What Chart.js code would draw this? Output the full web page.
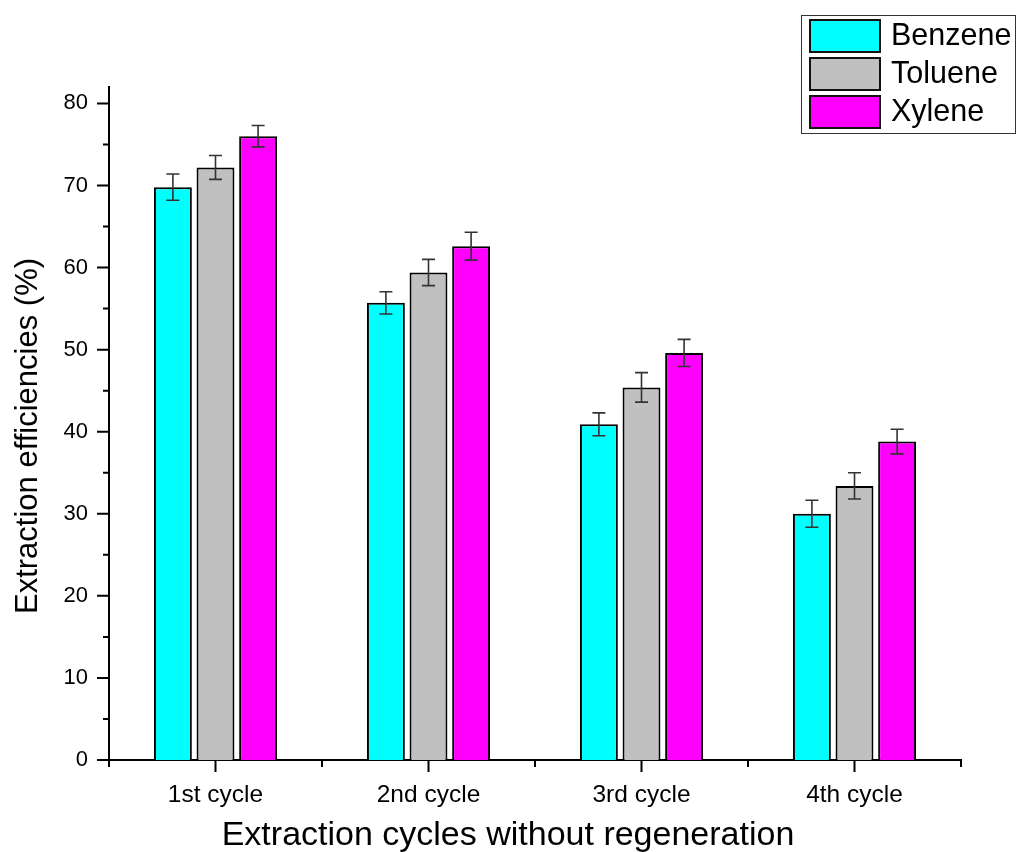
<!DOCTYPE html>
<html>
<head>
<meta charset="utf-8">
<script src="https://cdn.jsdelivr.net/npm/chart.js@4.4.1/dist/chart.umd.min.js"></script>
<style>
  html, body { margin: 0; padding: 0; background: #fff; }
  #wrap { width: 1017px; height: 852px; position: relative; }
</style>
</head>
<body>
<div id="wrap"><canvas id="c" width="1017" height="852"></canvas></div>
<script>
const categories = ['1st cycle', '2nd cycle', '3rd cycle', '4th cycle'];
const seriesNames = ['Benzene', 'Toluene', 'Xylene'];
const benzene = [69.8, 55.7, 40.9, 30.0];
const toluene = [72.2, 59.4, 45.4, 33.4];
const xylene = [76.0, 62.6, 49.6, 38.8];
const benzeneErr = [1.6, 1.35, 1.4, 1.65];
const tolueneErr = [1.45, 1.6, 1.8, 1.6];
const xyleneErr = [1.3, 1.7, 1.65, 1.5];
const yTickValues = [0, 10, 20, 30, 40, 50, 60, 70, 80];
const yMinorValues = [5, 15, 25, 35, 45, 55, 65, 75];
const xTitle = 'Extraction cycles without regeneration';
const yTitle = 'Extraction efficiencies (%)';

const colors = ['#00FFFF', '#C0C0C0', '#FF00FF'];
const errs = [benzeneErr, tolueneErr, xyleneErr];
const FONT = '"Liberation Sans", Arial, sans-serif';

const customPlugin = {
  id: 'custom',
  afterDatasetsDraw(chart) {
    const ctx = chart.ctx;
    const ys = chart.scales.y;
    ctx.save();
    ctx.strokeStyle = '#333';
    ctx.lineWidth = 1.6;
    chart.data.datasets.forEach((ds, di) => {
      const meta = chart.getDatasetMeta(di);
      meta.data.forEach((bar, i) => {
        const v = ds.data[i], e = errs[di][i];
        const yt = ys.getPixelForValue(v + e), yb = ys.getPixelForValue(v - e);
        const x = bar.x, cw = 6.5;
        ctx.beginPath();
        ctx.moveTo(x, yt); ctx.lineTo(x, yb);
        ctx.moveTo(x - cw, yt); ctx.lineTo(x + cw, yt);
        ctx.moveTo(x - cw, yb); ctx.lineTo(x + cw, yb);
        ctx.stroke();
      });
    });
    ctx.restore();
  },
  afterDraw(chart) {
    const ctx = chart.ctx;
    const ys = chart.scales.y, xs = chart.scales.x;
    const ca = chart.chartArea;
    ctx.save();
    // tick marks
    ctx.strokeStyle = '#000';
    ctx.lineWidth = 2;
    ctx.beginPath();
    yTickValues.forEach(v => { const y = ys.getPixelForValue(v); ctx.moveTo(ca.left, y); ctx.lineTo(ca.left - 12, y); });
    yMinorValues.forEach(v => { const y = ys.getPixelForValue(v); ctx.moveTo(ca.left, y); ctx.lineTo(ca.left - 6, y); });
    categories.forEach((c, i) => {
      const x = xs.getPixelForValue(i);
      ctx.moveTo(x, ca.bottom); ctx.lineTo(x, ca.bottom + 12);
    });
    const step = (xs.getPixelForValue(1) - xs.getPixelForValue(0));
    for (let i = 0; i <= categories.length; i++) {
      const x = xs.getPixelForValue(0) - step / 2 + i * step;
      ctx.moveTo(x, ca.bottom); ctx.lineTo(x, ca.bottom + 7);
    }
    ctx.stroke();

    // axis titles
    ctx.fillStyle = '#000';
    ctx.font = '34px ' + FONT;
    ctx.textAlign = 'center';
    ctx.textBaseline = 'middle';
    ctx.fillText(xTitle, 508, 836);
    ctx.save();
    ctx.font = '31px ' + FONT;
    ctx.translate(28, 436);
    ctx.rotate(-Math.PI / 2);
    ctx.fillText(yTitle, 0, 0);
    ctx.restore();

    // legend
    const lx = 801, ly = 15, lw = 214, lh = 118;
    ctx.fillStyle = '#fff';
    ctx.fillRect(lx, ly, lw, lh);
    ctx.strokeStyle = '#333';
    ctx.lineWidth = 1;
    ctx.strokeRect(lx + 0.5, ly + 0.5, lw, lh);
    ctx.font = '30.5px ' + FONT;
    ctx.textAlign = 'left';
    ctx.textBaseline = 'middle';
    seriesNames.forEach((n, i) => {
      const ry = 20 + i * 38;
      ctx.fillStyle = colors[i];
      ctx.fillRect(810, ry, 70, 32);
      ctx.strokeStyle = '#111';
      ctx.lineWidth = 2;
      ctx.strokeRect(810, ry, 70, 32);
      ctx.fillStyle = '#000';
      ctx.fillText(n, 891, ry + 17);
    });
    ctx.restore();
  }
};

new Chart(document.getElementById('c'), {
  type: 'bar',
  data: {
    labels: categories,
    datasets: [
      { label: seriesNames[0], data: benzene, backgroundColor: colors[0], borderColor: '#000', borderWidth: 2, barPercentage: 0.89, categoryPercentage: 0.6 },
      { label: seriesNames[1], data: toluene, backgroundColor: colors[1], borderColor: '#000', borderWidth: 2, barPercentage: 0.89, categoryPercentage: 0.6 },
      { label: seriesNames[2], data: xylene, backgroundColor: colors[2], borderColor: '#000', borderWidth: 2, barPercentage: 0.89, categoryPercentage: 0.6 }
    ]
  },
  options: {
    responsive: false,
    animation: false,
    devicePixelRatio: 1,
    layout: { padding: { left: 0, top: 87, right: 56, bottom: 0 } },
    plugins: { legend: { display: false }, tooltip: { enabled: false } },
    scales: {
      x: {
        offset: true,
        grid: { display: false, drawTicks: false },
        border: { display: true, color: '#000', width: 2 },
        ticks: { color: '#000', font: { family: FONT, size: 24.5 }, padding: 21, maxRotation: 0 },
        afterFit(s) { s.height = 92; }
      },
      y: {
        min: 0, max: 82,
        grid: { display: false, drawTicks: false },
        border: { display: true, color: '#000', width: 2 },
        ticks: { stepSize: 10, color: '#000', font: { family: FONT, size: 22 }, padding: 21 },
        afterBuildTicks(s) { s.ticks = yTickValues.map(v => ({ value: v })); },
        afterFit(s) { s.width = 109; }
      }
    }
  },
  plugins: [customPlugin]
});
</script>
</body>
</html>
